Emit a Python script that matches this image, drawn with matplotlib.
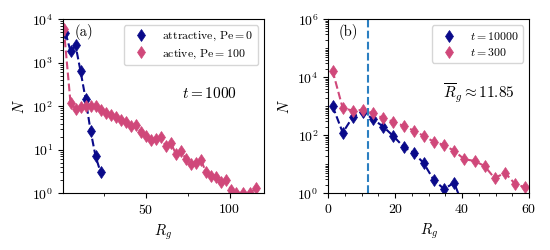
import numpy as np
import matplotlib
matplotlib.use('Agg')
import matplotlib.pyplot as plt
from matplotlib.ticker import MultipleLocator, LogLocator, NullFormatter

plt.rcParams['font.family'] = 'serif'
plt.rcParams['font.serif'] = ['cmr10']
plt.rcParams['mathtext.fontset'] = 'cm'
plt.rcParams['axes.formatter.use_mathtext'] = True

# panel (a): t = 1000
rg_attr = [2, 5, 8, 11, 14, 17, 20, 23]
n_attr = [4900, 1850, 2500, 640, 148, 27, 7, 3]

rg_act = [1, 5, 8, 11, 14, 17, 20, 23, 26, 29, 32, 35, 38, 41, 44, 47, 50, 53,
          56, 59, 62, 65, 68, 71, 74, 77, 80, 83, 86, 89, 92, 95, 98, 101,
          104, 108, 112, 116]
n_act = [6100, 120, 87, 97, 104, 99, 100, 84, 70, 64, 57, 49, 43, 36, 38, 26,
         21, 17, 18, 20, 12, 14, 8, 9.6, 6, 4.8, 5, 5.7, 3, 2.5, 2.4, 1.8, 2,
         1.2, 1.0, 1.0, 1.0, 1.35]

# panel (b): late vs early time
rg_late = [1.3, 4.35, 7.4, 10.4, 13.4, 16.4, 19.4, 22.5, 25.5, 28.5, 31.5,
           34.6, 37.6, 40.6]
n_late = [1020, 123, 440, 650, 355, 200, 95, 40, 25, 11, 2.9, 1.4, 2.3, 0.3]

rg_early = [1.3, 4.35, 7.4, 10.4, 13.4, 16.4, 19.4, 22.5, 25.5, 28.5, 31.5,
            34.6, 37.6, 40.6, 43.7, 46.7, 49.7, 52.8, 55.8, 58.8]
n_early = [17000, 850, 710, 745, 575, 385, 295, 210, 145, 95, 60, 46, 29, 15,
           13, 8.7, 3.3, 5.1, 2.1, 1.6]

rg_mean = 11.85

blue = '#0a0a8a'
pink = '#d0487a'

fig, (ax1, ax2) = plt.subplots(1, 2, figsize=(5.5, 2.5), dpi=100)
fig.subplots_adjust(left=0.1145, right=0.962, bottom=0.227, top=0.923, wspace=0.32)

def draw(ax, x, y, c, lab):
    ax.plot(x, y, '--', color=c, lw=1.5)
    ax.plot(x, y, 'd', color=c, ms=6, mew=0.5, label=lab)

draw(ax1, rg_attr, n_attr, blue, r'attractive, $\mathrm{Pe}=0$')
draw(ax1, rg_act, n_act, pink, r'active, $\mathrm{Pe}=100$')
ax1.set_yscale('log')
ax1.set_ylim(1, 1e4)
ax1.set_xlim(0.5, 120.5)
ax1.xaxis.set_major_locator(MultipleLocator(50))
ax1.xaxis.set_minor_locator(MultipleLocator(25))
ax1.text(0.058, 0.925, '(a)', transform=ax1.transAxes, fontsize=10.5, va='center')
ax1.text(0.73, 0.574, r'$t=1000$', transform=ax1.transAxes, fontsize=11,
         ha='center', va='center')

draw(ax2, rg_late, n_late, blue, r'$t=10000$')
draw(ax2, rg_early, n_early, pink, r'$t=300$')
ax2.axvline(rg_mean, color='#2b7fc1', ls='--', lw=1.5)
ax2.set_yscale('log')
ax2.set_ylim(1, 1e6)
ax2.set_xlim(0, 60)
ax2.yaxis.set_major_locator(LogLocator(base=100))
ax2.yaxis.set_minor_locator(LogLocator(base=10, subs=np.arange(1, 10), numticks=20))
ax2.yaxis.set_minor_formatter(NullFormatter())
ax2.xaxis.set_major_locator(MultipleLocator(20))
ax2.xaxis.set_minor_locator(MultipleLocator(5))
ax2.text(0.05, 0.925, '(b)', transform=ax2.transAxes, fontsize=10.5, va='center')
ax2.text(0.75, 0.574, r'$\overline{R}_g\approx 11.85$', transform=ax2.transAxes,
         fontsize=11, ha='center', va='center')

for ax in (ax1, ax2):
    ax.set_xlabel(r'$R_g$', fontsize=10.5)
    ax.set_ylabel(r'$N$', fontsize=10.5)
    ax.tick_params(labelsize=10)
    ax.legend(loc='upper right', fontsize=8.5, labelspacing=0.35)

fig.savefig('out.png', dpi=100)
